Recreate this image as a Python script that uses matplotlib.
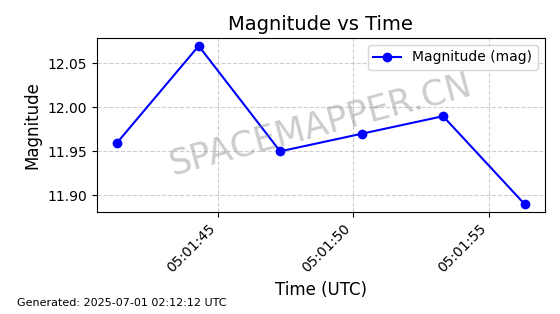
import matplotlib
matplotlib.use("Agg")
import matplotlib.pyplot as plt
import matplotlib.dates as mdates
from datetime import datetime

# Data
times = ["2025-07-01 05:01:41.3", "2025-07-01 05:01:44.3", "2025-07-01 05:01:47.3",
         "2025-07-01 05:01:50.3", "2025-07-01 05:01:53.3", "2025-07-01 05:01:56.3"]
magnitudes = [11.96, 12.07, 11.95, 11.97, 11.99, 11.89]
yticks = [11.90, 11.95, 12.00, 12.05]

t = [datetime.strptime(s, "%Y-%m-%d %H:%M:%S.%f") for s in times]

fig, ax = plt.subplots(figsize=(5.6, 3.14), dpi=100)
fig.subplots_adjust(left=0.173, right=0.973, top=0.879, bottom=0.325)

ax.plot(t, magnitudes, color='blue', marker='o', label='Magnitude (mag)')
ax.set_title("Magnitude vs Time", fontsize=14)
ax.set_xlabel("Time (UTC)", fontsize=12)
ax.set_ylabel("Magnitude", fontsize=12)
ax.set_yticks(yticks)
ax.xaxis.set_major_locator(mdates.SecondLocator(bysecond=range(0, 60, 5)))
ax.xaxis.set_major_formatter(mdates.DateFormatter("%H:%M:%S"))
plt.setp(ax.get_xticklabels(), rotation=45, ha='right')
ax.grid(True, linestyle='--', alpha=0.6)
ax.legend(loc='upper right')

#Marca d'agua
ax.text(0.5, 0.5, "SPACEMAPPER.CN", transform=ax.transAxes, fontsize=25,
        color='gray', alpha=0.4, rotation=15, ha='center', va='center')

fig.text(0.03, 0.025, "Generated: 2025-07-01 02:12:12 UTC", fontsize=8)

fig.savefig("out.png", dpi=100)
